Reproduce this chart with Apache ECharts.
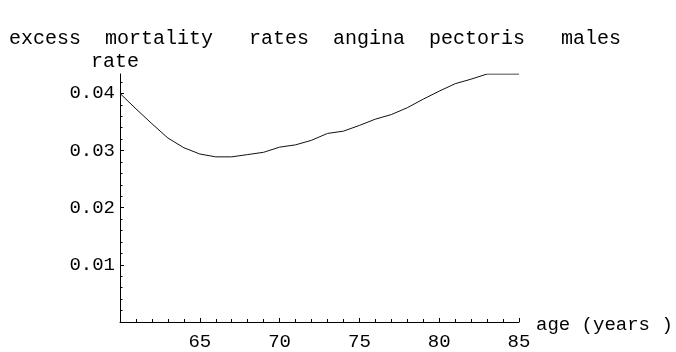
<!DOCTYPE html>
<html>
<head>
<meta charset="utf-8">
<script src="https://cdn.jsdelivr.net/npm/echarts@6/dist/echarts.min.js"></script>
<style>
  html, body { margin: 0; padding: 0; background: #fff; }
  #chart { width: 676px; height: 352px; }
</style>
</head>
<body>
<div id="chart"></div>
<script>
// Excess mortality rate, angina pectoris, males, by age
const ages = [60, 61, 62, 63, 64, 65, 66, 67, 68, 69, 70, 71, 72,
              73, 74, 75, 76, 77, 78, 79, 80, 81, 82, 83, 84, 85];
const rates = [0.0400, 0.0373, 0.0347, 0.0322, 0.0305, 0.0294, 0.0289, 0.0289, 0.0293,
               0.0297, 0.0306, 0.0310, 0.0318, 0.0330, 0.0334, 0.0344, 0.0355,
               0.0363, 0.0375, 0.0390, 0.0404, 0.0417, 0.0425, 0.0434, 0.0434, 0.0434];

const xTickLabels = [65, 70, 75, 80, 85];
const yTickLabels = [0.01, 0.02, 0.03, 0.04];

const titleText = 'excess  mortality   rates  angina  pectoris   males';
const xName = 'age (years )';
const yName = 'rate';

const xMin = 60, xMax = 85;
const yMin = 0, yMax = 0.0434;

// minor tick positions: every year on x, every 0.002 on y
const xMinor = [];
for (let a = xMin + 1; a < xMax; a++) if (a % 5 !== 0) xMinor.push(a);
const yMinor = [];
for (let k = 1; k * 0.002 < yMax; k++) if (k % 5 !== 0) yMinor.push(+(k * 0.002).toFixed(3));

const monoFont = '"Liberation Mono", "DejaVu Sans Mono", monospace';
const axisColor = '#000';

const chart = echarts.init(document.getElementById('chart'), null, { renderer: 'canvas' });

const lineData = ages.map((a, i) => [a, rates[i]]);

chart.setOption({
  animation: false,
  backgroundColor: '#fff',
  grid: { left: 120, right: 157, top: 74, bottom: 30, containLabel: false },
  xAxis: [
    {
      type: 'value', min: xMin, max: xMax, interval: 5,
      axisLine: { show: true, onZero: false, lineStyle: { color: axisColor, width: 1 } },
      axisTick: { show: true, inside: true, length: 4, customValues: xTickLabels,
                  lineStyle: { color: axisColor, width: 1 } },
      axisLabel: { show: true, customValues: xTickLabels, margin: 10,
                   color: '#000', fontFamily: monoFont, fontSize: 19 },
      splitLine: { show: false }
    },
    {
      type: 'value', min: xMin, max: xMax, position: 'bottom', gridIndex: 0,
      axisLine: { show: false, onZero: false },
      axisTick: { show: true, inside: true, length: 3, customValues: xMinor,
                  lineStyle: { color: axisColor, width: 1 } },
      axisLabel: { show: false },
      splitLine: { show: false }
    }
  ],
  yAxis: [
    {
      type: 'value', min: yMin, max: yMax, interval: 0.01,
      axisLine: { show: true, onZero: false, lineStyle: { color: axisColor, width: 1 } },
      axisTick: { show: true, inside: true, length: 4, customValues: yTickLabels,
                  lineStyle: { color: axisColor, width: 1 } },
      axisLabel: { show: true, customValues: yTickLabels, margin: 5,
                   color: '#000', fontFamily: monoFont, fontSize: 19,
                   formatter: v => v.toFixed(2) },
      splitLine: { show: false }
    },
    {
      type: 'value', min: yMin, max: yMax, position: 'left', gridIndex: 0,
      axisLine: { show: false, onZero: false },
      axisTick: { show: true, inside: true, length: 2.5, customValues: yMinor,
                  lineStyle: { color: axisColor, width: 1 } },
      axisLabel: { show: false },
      splitLine: { show: false }
    }
  ],
  series: [{
    type: 'line',
    xAxisIndex: 0, yAxisIndex: 0,
    data: lineData,
    showSymbol: false,
    smooth: false,
    lineStyle: { color: '#111', width: 1 }
  }],
  graphic: [
    { type: 'text', x: 9, y: 29,
      style: { text: titleText, font: '20px ' + monoFont, fill: '#000', textBaseline: 'alphabetic' } },
    { type: 'text', x: 91, y: 52,
      style: { text: yName, font: '20px ' + monoFont, fill: '#000', textBaseline: 'alphabetic' } },
    { type: 'text', x: 536, y: 315,
      style: { text: xName, font: '19px ' + monoFont, fill: '#000', textBaseline: 'alphabetic' } }
  ]
});
</script>
</body>
</html>
